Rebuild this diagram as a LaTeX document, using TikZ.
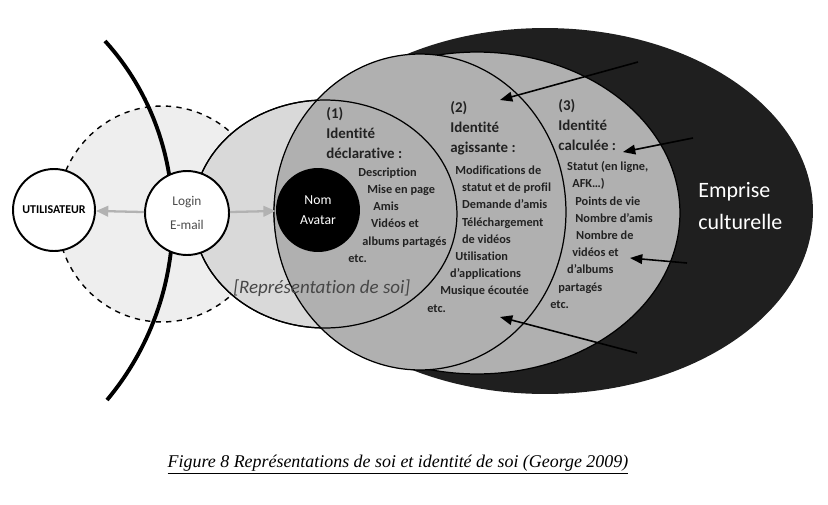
\documentclass[tikz,border=0pt]{standalone}
\usepackage{fontspec}
\setmainfont{Carlito}[Ligatures=NoCommon]
\newfontfamily\captionfont{Liberation Serif}
\usetikzlibrary{arrows.meta,positioning}
\definecolor{culture}{HTML}{1F1F1F}
\definecolor{midgrey}{HTML}{B0B0B0}
\definecolor{lightgrey}{HTML}{D9D9D9}
\definecolor{dashgrey}{HTML}{EEEEEE}
\definecolor{ink}{HTML}{222222}

\begin{document}
\begin{tikzpicture}[x=0.02cm, y=-0.02cm,
    heading/.style={font=\fontsize{8.5}{11.3}\selectfont\bfseries, text=ink, align=left, anchor=west, inner sep=0pt},
    items/.style={font=\fontsize{7}{9.8}\selectfont\bfseries, text=ink, align=left, anchor=west, inner sep=0pt},
    disc/.style={circle, draw, line width=1.1pt, fill=white, inner sep=0pt, align=center},
    pointer/.style={-{Triangle[length=7pt,width=5.5pt]}, line width=0.9pt},
    faint/.style={-{Triangle[length=7pt,width=6pt]}, line width=1.3pt, draw=black!30}]
    \useasboundingbox (0,0) rectangle (828,504);

    \draw[dashed, line width=0.8pt, fill=dashgrey] (162,214) ellipse [x radius=2.1cm, y radius=2.16cm];
    \draw[line width=2.2pt] (105,41) .. controls (195,140) and (195,295) .. (107,400);

    \draw[line width=0.7pt, fill=lightgrey] (325,214) ellipse [x radius=2.64cm, y radius=2.28cm];
    \fill[culture] (545,211) ellipse [x radius=5.36cm, y radius=3.66cm];
    \draw[line width=0.7pt, fill=midgrey] (477,213) ellipse [x radius=4.06cm, y radius=3.22cm];
    \draw[line width=0.7pt, fill=midgrey] (420,212) ellipse [x radius=2.92cm, y radius=3.16cm];
    \draw[line width=0.7pt] (325,214) ellipse [x radius=2.64cm, y radius=2.28cm];

    \node[circle, fill=black, minimum size=1.68cm, inner sep=0pt, text=white, align=center,
          font=\fontsize{7.8}{11.3}\selectfont] (avatar) at (318,210) {Nom\\Avatar};
    \node[disc, minimum size=1.64cm, font=\fontsize{6.8}{8}\selectfont\bfseries] (user) at (54,210) {UTILISATEUR};
    \node[disc, minimum size=1.68cm, text=black!70, font=\fontsize{7.6}{13.6}\selectfont] (login) at (187,213) {Login\\E-mail};

    \draw[faint] (login) -- (user);
    \draw[faint] (login) -- (avatar);

    \node[inner sep=0pt, anchor=west, text=black!72, font=\fontsize{10.8}{12}\selectfont\itshape] (self) at (233,288) {[Représentation de soi]};

    \node[heading] (one) at (326,133) {(1)\\Identité\\déclarative :};
    \node[heading] (two) at (450,128) {(2)\\Identité\\agissante :};
    \node[heading] (three) at (558,125) {(3)\\Identité\\calculée :};

    \node[items] (declared) at (348,215) {\hspace*{5.7pt}Description\\\hspace*{10.8pt}Mise en page\\\hspace*{14.2pt}Amis\\\hspace*{13pt}Vidéos et\\\hspace*{8pt}albums partagés\\etc.};
    \node[items] (acting) at (427,239) {\hspace*{15.9pt}Modifications de\\\hspace*{19.8pt}statut et de profil\\\hspace*{19.8pt}Demande d’amis\\\hspace*{19.8pt}Téléchargement\\\hspace*{19.8pt}de vidéos\\\hspace*{15.9pt}Utilisation\\\hspace*{13pt}d’applications\\\hspace*{7.4pt}Musique écoutée\\etc.};
    \node[items] (computed) at (550,235) {\hspace*{9.6pt}Statut (en ligne,\\\hspace*{12.5pt}AFK…)\\\hspace*{14.2pt}Points de vie\\\hspace*{14.2pt}Nombre d’amis\\\hspace*{14.7pt}Nombre de\\\hspace*{12.5pt}vidéos et\\\hspace*{9.6pt}d’albums\\\hspace*{4.5pt}partagés\\etc.};

    \node[inner sep=0pt, anchor=west, align=left, text=white, font=\fontsize{12.5}{18}\selectfont] (grip) at (698,206) {Emprise\\culturelle};

    \coordinate (fromA) at (638,62);
    \coordinate (toA) at (500,100);
    \coordinate (fromB) at (693,138);
    \coordinate (toB) at (623,152);
    \coordinate (fromC) at (687,263);
    \coordinate (toC) at (630,258);
    \coordinate (fromD) at (637,353);
    \coordinate (toD) at (500,317);
    \draw[pointer] (fromA) -- (toA);
    \draw[pointer] (fromB) -- (toB);
    \draw[pointer] (fromC) -- (toC);
    \draw[pointer] (fromD) -- (toD);

    \node[inner sep=0pt, font=\captionfont\itshape\fontsize{10.2}{12}\selectfont] (caption) at (398,465) {\underline{Figure 8 Représentations de soi et identité de soi (George 2009)}};
\end{tikzpicture}
\end{document}
